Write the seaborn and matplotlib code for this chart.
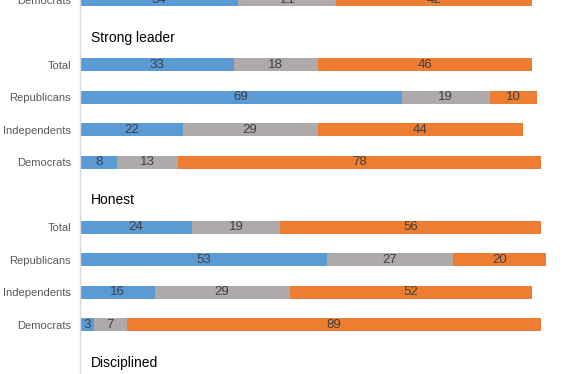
import numpy as np
import pandas as pd
import seaborn as sns
import matplotlib.pyplot as plt

# rows shown top to bottom (the chart is a crop of a longer one)
row_labels = ["Democrats", "", "Total", "Republicans", "Independents", "Democrats",
              "", "Total", "Republicans", "Independents", "Democrats", ""]
headers = {1: "Strong leader", 6: "Honest", 11: "Disciplined"}

blue_vals = [34, 0, 33, 69, 22, 8, 0, 24, 53, 16, 3, 0]
gray_vals = [21, 0, 18, 19, 29, 13, 0, 19, 27, 29, 7, 0]
orange_vals = [42, 0, 46, 10, 44, 78, 0, 56, 20, 52, 89, 0]

BLUE = "#5B9BD5"
GRAY = "#AEAAAA"
ORANGE = "#ED7D31"

keys = [f"r{i}" for i in range(len(row_labels))]
df = pd.DataFrame({"key": keys, "blue": blue_vals, "gray": gray_vals, "orange": orange_vals})
df["c1"] = df["blue"]
df["c2"] = df["blue"] + df["gray"]
df["c3"] = df["c2"] + df["orange"]

sns.set_style("white")
plt.rcParams["font.family"] = ["Liberation Sans", "DejaVu Sans"]

fig = plt.figure(figsize=(5.72, 3.74), dpi=100)
ax = fig.add_axes([80 / 572, 0, 1 - 80 / 572, 1])

# stacked bars drawn as overlapping cumulative totals
for col, color in [("c3", ORANGE), ("c2", GRAY), ("c1", BLUE)]:
    sns.barplot(data=df, x=col, y="key", order=keys, orient="y", color=color,
                width=0.40, linewidth=0, saturation=1, errorbar=None, ax=ax)

# value labels centred in each segment
for i, row in df.iterrows():
    starts = [0, row["c1"], row["c2"]]
    for s, v in zip(starts, [row["blue"], row["gray"], row["orange"]]):
        if v > 0:
            ax.text(s + v / 2, i, str(v), ha="center", va="center",
                    fontsize=9.5, color="#404040")

for i, h in headers.items():
    ax.text(2.4, i + 0.16, h, ha="left", va="center", fontsize=10, color="black")

ax.set_xlim(0, 492 / 4.66)
ax.set_ylim(11.51, 0.073)
ax.set_yticks(range(len(keys)))
ax.set_yticklabels(row_labels, fontsize=8, color="#595959")
ax.tick_params(axis="y", length=0, pad=6.5)
ax.set_xticks([])
ax.set_xlabel("")
ax.set_ylabel("")
for side in ["top", "right", "bottom"]:
    ax.spines[side].set_visible(False)
ax.spines["left"].set_color("#D9D9D9")
ax.spines["left"].set_linewidth(1)

fig.savefig("out.png", dpi=100)
